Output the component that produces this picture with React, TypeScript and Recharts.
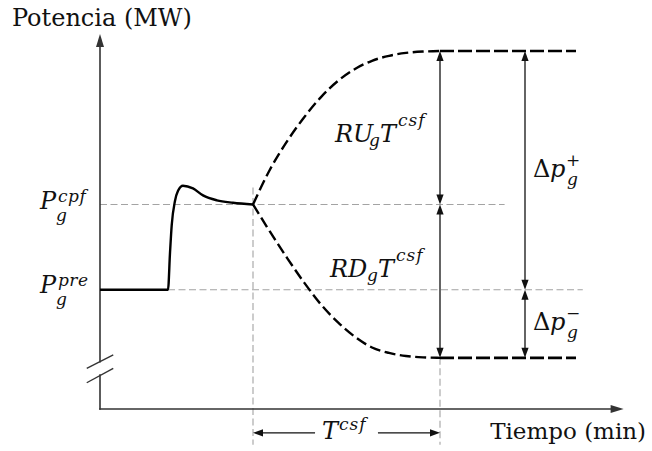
import React from 'react';
import { ComposedChart, Line, XAxis, YAxis, ReferenceLine, ReferenceDot } from 'recharts';

const FONT = "'DejaVu Serif', 'Liberation Serif', serif";
const INK = '#111';
const GRID = '#a3a3a3';
const AXIS = '#333';

// límites de los ejes (min, MW)
const T_MAX = 30.8;
const P_MAX = 220;

// niveles de potencia (MW)
const P_PRE = 70;
const P_CPF = 120;
const P_UP = 210;
const P_DOWN = 30;

// instantes (min)
const T_EVENT = 4;
const T_CSF0 = 9;
const T_CSF1 = 20;
const T_END = 28;

// respuesta primaria tras el evento
const stepT = [0, 4, 4.12, 4.22, 4.41, 4.59, 4.88, 5.47, 6.06, 6.88, 7.82, 9];
const stepP = [70, 70, 92, 108, 122, 128, 131, 129.4, 125.3, 122.4, 121, 120];

// rampas de subida y bajada durante T^csf
const rampT = [9, 10, 11, 12, 13, 14, 15, 16, 17, 18, 19, 20];
const rampUpP = [120, 140.5, 157, 171, 183, 192.5, 199.5, 204.3, 207.2, 208.9, 209.7, 210];
const rampDownP = [120, 104, 88.7, 74.3, 61.3, 50.8, 42.3, 36.1, 32.9, 31.1, 30.3, 30];

const zip = (ts: number[], ps: number[]) => ts.map((t, i) => ({ t, p: ps[i] }));
const stepData = zip(stepT, stepP);
const upData = zip(rampT, rampUpP);
const downData = zip(rampT, rampDownP);
const upFlat = zip([T_CSF1, T_END], [P_UP, P_UP]);
const downFlat = zip([T_CSF1, T_END], [P_DOWN, P_DOWN]);

type ArrowOpts = {
  start?: boolean;
  end?: boolean;
  stroke?: string;
  width?: number;
  len?: number;
  half?: number;
  dash?: string;
  cap?: 'butt' | 'square' | 'round';
};

function arrowShape({ start = false, end = false, stroke = INK, width = 1.3, len = 10, half = 3.6, dash, cap = 'butt' }: ArrowOpts) {
  return (props: any) => {
    const { x1, y1, x2, y2 } = props;
    const dx = x2 - x1;
    const dy = y2 - y1;
    const L = Math.hypot(dx, dy) || 1;
    const ux = dx / L;
    const uy = dy / L;
    const sx = start ? x1 + ux * len * 0.7 : x1;
    const sy = start ? y1 + uy * len * 0.7 : y1;
    const ex = end ? x2 - ux * len * 0.7 : x2;
    const ey = end ? y2 - uy * len * 0.7 : y2;
    const tri = (tx: number, ty: number, vx: number, vy: number) => {
      const bx = tx - vx * len;
      const by = ty - vy * len;
      return `${tx},${ty} ${bx - vy * half},${by + vx * half} ${bx + vy * half},${by - vx * half}`;
    };
    return (
      <g>
        <line x1={sx} y1={sy} x2={ex} y2={ey} stroke={stroke} strokeWidth={width} strokeDasharray={dash} strokeLinecap={cap} />
        {start && <polygon points={tri(x1, y1, -ux, -uy)} fill={stroke} />}
        {end && <polygon points={tri(x2, y2, ux, uy)} fill={stroke} />}
      </g>
    );
  };
}

type Piece = { s: string; dx: number; dy: number; size: number; italic?: boolean; ls?: number };

// cada etiqueta es un único <text>; índices y superíndices van en tspans
function textShape(pieces: Piece[]) {
  return (props: any) => {
    const { cx, cy } = props;
    return (
      <text fill={INK} fontFamily={FONT} style={{ fontFamily: FONT }}>
        {pieces.map((p, i) => (
          <tspan
            key={i}
            x={cx + p.dx}
            y={cy + p.dy}
            fontSize={p.size}
            fontStyle={p.italic ? 'italic' : 'normal'}
            letterSpacing={p.ls ?? 0}
          >
            {p.s}
          </tspan>
        ))}
      </text>
    );
  };
}

const gray = arrowShape({ stroke: GRID, width: 1.1, dash: '7 3.5' });
const dim2 = arrowShape({ start: true, end: true });
const dim1 = arrowShape({ end: true });
const axisArrow = arrowShape({ end: true, stroke: AXIS, width: 1.6, len: 13, half: 4, cap: 'square' });
const axisPlain = arrowShape({ stroke: AXIS, width: 1.6, cap: 'square' });
const slash = arrowShape({ stroke: AXIS, width: 1.4 });

const labels: { t: number; p: number; pieces: Piece[] }[] = [
  { t: -5.18, p: 224.7, pieces: [{ s: 'Potencia (MW)', dx: 0, dy: 0, size: 24 }] },
  { t: 22.95, p: -17.6, pieces: [{ s: 'Tiempo (min)', dx: 0, dy: 0, size: 23 }] },
  {
    t: -3.53, p: 117.3, pieces: [
      { s: 'P', dx: 0, dy: 0, size: 24, italic: true },
      { s: 'cpf', dx: 18, dy: -7, size: 17, italic: true, ls: 0.5 },
      { s: 'g', dx: 16, dy: 12, size: 17, italic: true },
    ],
  },
  {
    t: -3.53, p: 68, pieces: [
      { s: 'P', dx: 0, dy: 0, size: 24, italic: true },
      { s: 'pre', dx: 18, dy: -7, size: 17, italic: true, ls: 0.5 },
      { s: 'g', dx: 16, dy: 12, size: 17, italic: true },
    ],
  },
  {
    t: 13.82, p: 156.8, pieces: [
      { s: 'RU', dx: 0, dy: 0, size: 24, italic: true },
      { s: 'g', dx: 34, dy: 4, size: 17, italic: true },
      { s: 'T', dx: 45, dy: 0, size: 24, italic: true },
      { s: 'csf', dx: 63, dy: -16, size: 17, italic: true, ls: 1 },
    ],
  },
  {
    t: 13.53, p: 77.5, pieces: [
      { s: 'RD', dx: 0, dy: 0, size: 24, italic: true },
      { s: 'g', dx: 37, dy: 4, size: 17, italic: true },
      { s: 'T', dx: 48, dy: 0, size: 24, italic: true },
      { s: 'csf', dx: 66, dy: -16, size: 17, italic: true, ls: 1 },
    ],
  },
  {
    t: 25.47, p: 136, pieces: [
      { s: 'Δ', dx: 0, dy: 0, size: 24 },
      { s: 'p', dx: 17, dy: 0, size: 24, italic: true },
      { s: '+', dx: 33, dy: -11, size: 17 },
      { s: 'g', dx: 34, dy: 8, size: 17, italic: true },
    ],
  },
  {
    t: 25.47, p: 46.3, pieces: [
      { s: 'Δ', dx: 0, dy: 0, size: 24 },
      { s: 'p', dx: 17, dy: 0, size: 24, italic: true },
      { s: '−', dx: 33, dy: -11, size: 17 },
      { s: 'g', dx: 34, dy: 8, size: 17, italic: true },
    ],
  },
  {
    t: 13.06, p: -17.6, pieces: [
      { s: 'T', dx: 0, dy: 0, size: 24, italic: true },
      { s: 'csf', dx: 17, dy: -9, size: 17, italic: true, ls: 1 },
    ],
  },
];

const seg = (t1: number, p1: number, t2: number, p2: number) => [
  { x: t1, y: p1 },
  { x: t2, y: p2 },
];

export default function App() {
  return (
    <div style={{ position: 'absolute', left: 0, top: 0, width: 652, height: 451, background: '#fff', fontFamily: FONT }}>
      <ComposedChart width={652} height={451} margin={{ top: 34, right: 28.4, bottom: 42, left: 100 }}>
        <XAxis dataKey="t" type="number" domain={[0, T_MAX]} allowDataOverflow hide />
        <YAxis type="number" domain={[0, P_MAX]} allowDataOverflow hide />

        {/* líneas guía */}
        <ReferenceLine segment={seg(0, P_CPF, 23.8, P_CPF)} ifOverflow="visible" shape={gray} />
        <ReferenceLine segment={seg(T_EVENT, P_PRE, 28.4, P_PRE)} ifOverflow="visible" shape={gray} />
        <ReferenceLine segment={seg(T_CSF0, 130, T_CSF0, -21)} ifOverflow="visible" shape={gray} />
        <ReferenceLine segment={seg(T_CSF1, P_DOWN, T_CSF1, -21)} ifOverflow="visible" shape={gray} />

        {/* ejes con corte */}
        <ReferenceLine segment={seg(0, 27.7, 0, P_MAX)} ifOverflow="visible" shape={axisArrow} />
        <ReferenceLine segment={seg(0, 0, 0, 19.9)} ifOverflow="visible" shape={axisPlain} />
        <ReferenceLine segment={seg(0, 0, T_MAX, 0)} ifOverflow="visible" shape={axisArrow} />
        <ReferenceLine segment={seg(-0.78, 23.9, 0.78, 31.7)} ifOverflow="visible" shape={slash} />
        <ReferenceLine segment={seg(-0.78, 15.4, 0.78, 23.9)} ifOverflow="visible" shape={slash} />

        {/* cotas */}
        <ReferenceLine segment={seg(T_CSF1, P_UP, T_CSF1, P_CPF)} ifOverflow="visible" shape={dim2} />
        <ReferenceLine segment={seg(T_CSF1, P_CPF, T_CSF1, P_DOWN)} ifOverflow="visible" shape={dim2} />
        <ReferenceLine segment={seg(25, P_UP, 25, P_PRE)} ifOverflow="visible" shape={dim2} />
        <ReferenceLine segment={seg(25, P_PRE, 25, P_DOWN)} ifOverflow="visible" shape={dim2} />
        <ReferenceLine segment={seg(12.65, -14, T_CSF0, -14)} ifOverflow="visible" shape={dim1} />
        <ReferenceLine segment={seg(16.35, -14, T_CSF1, -14)} ifOverflow="visible" shape={dim1} />

        <Line data={stepData} dataKey="p" type="monotone" stroke="#000" strokeWidth={2.4} dot={false} activeDot={false} isAnimationActive={false} />
        <Line data={upData} dataKey="p" type="monotone" stroke="#000" strokeWidth={2.4} strokeDasharray="11 4.5" dot={false} activeDot={false} isAnimationActive={false} />
        <Line data={downData} dataKey="p" type="monotone" stroke="#000" strokeWidth={2.4} strokeDasharray="11 4.5" dot={false} activeDot={false} isAnimationActive={false} />
        <Line data={upFlat} dataKey="p" type="linear" stroke="#000" strokeWidth={2.6} strokeDasharray="14 4" dot={false} activeDot={false} isAnimationActive={false} />
        <Line data={downFlat} dataKey="p" type="linear" stroke="#000" strokeWidth={2.6} strokeDasharray="14 4" dot={false} activeDot={false} isAnimationActive={false} />

        {labels.map((l, i) => (
          <ReferenceDot key={i} x={l.t} y={l.p} r={1} ifOverflow="visible" shape={textShape(l.pieces)} />
        ))}
      </ComposedChart>
    </div>
  );
}
